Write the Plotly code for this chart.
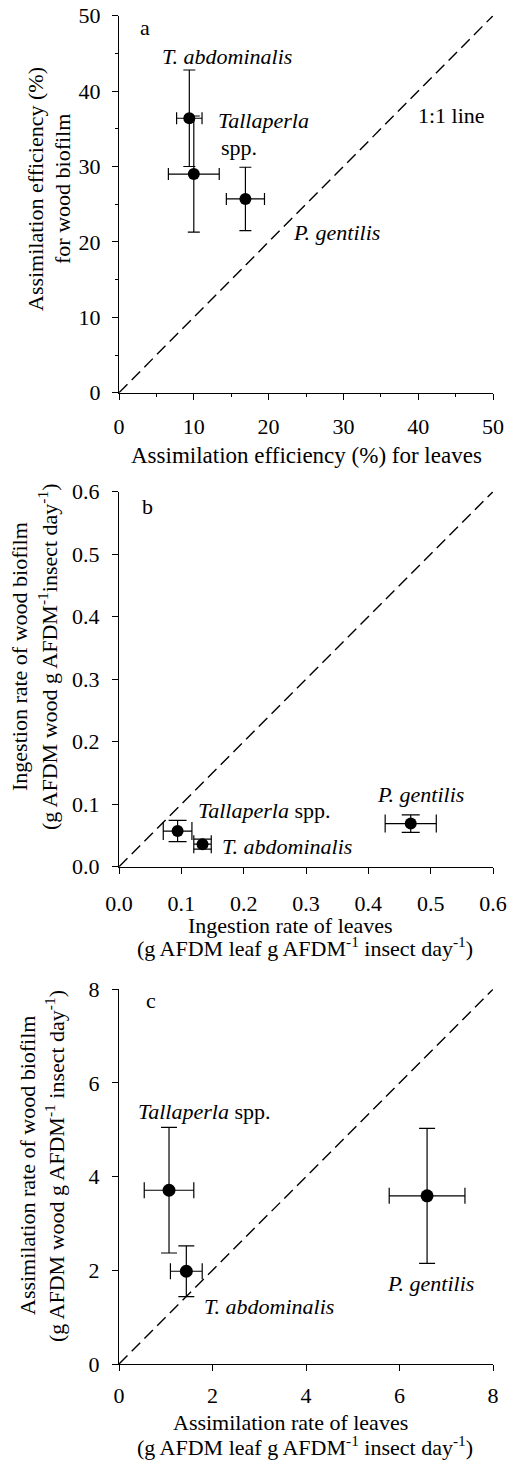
import plotly.graph_objects as go

# ---- data ----
species = ["T. abdominalis", "Tallaperla spp.", "P. gentilis"]

# panel a: assimilation efficiency (%)
a_x = [9.4, 10.0, 16.9]
a_xerr = [1.7, 3.4, 2.55]
a_y = [36.4, 29.0, 25.7]
a_yerr = [6.4, 7.7, 4.2]

# panel b: ingestion rate
b_x = [0.134, 0.094, 0.468]
b_xerr = [0.014, 0.023, 0.041]
b_y = [0.036, 0.057, 0.069]
b_yerr = [0.008, 0.017, 0.014]

# panel c: assimilation rate
c_x = [1.44, 1.07, 6.59]
c_xerr = [0.34, 0.53, 0.81]
c_y = [1.98, 3.71, 3.59]
c_yerr = [0.54, 1.34, 1.44]

a_ticks = [0, 10, 20, 30, 40, 50]
b_ticks = [0.0, 0.1, 0.2, 0.3, 0.4, 0.5, 0.6]
c_ticks = [0, 2, 4, 6, 8]

FONT = "Liberation Serif"
FS = 22
W, H = 515, 1466

fig = go.Figure()

xdom = [119 / W, 493 / W]
doms = {
    "a": [1 - 392.7 / H, 1 - 15.7 / H],
    "b": [1 - 866.7 / H, 1 - 491.7 / H],
    "c": [1 - 1364 / H, 1 - 989.3 / H],
}

panels = [
    ("a", "x", "y", a_x, a_xerr, a_y, a_yerr, a_ticks, 6, 12),
    ("b", "x2", "y2", b_x, b_xerr, b_y, b_yerr, b_ticks, 9, 12),
    ("c", "x3", "y3", c_x, c_xerr, c_y, c_yerr, c_ticks, 8, 13),
]

for name, xa, ya, xs, xe, ys, ye, ticks, capw, msize in panels:
    lim = ticks[-1]
    fig.add_trace(go.Scatter(
        x=[0, lim], y=[0, lim], mode="lines", xaxis=xa, yaxis=ya,
        line=dict(color="black", width=1.4, dash="12px,6px"),
        showlegend=False, hoverinfo="skip", cliponaxis=False))
    fig.add_trace(go.Scatter(
        x=xs, y=ys, mode="markers", xaxis=xa, yaxis=ya, text=species,
        marker=dict(color="black", size=msize),
        error_x=dict(type="data", array=xe, color="black", thickness=1.2, width=capw),
        error_y=dict(type="data", array=ye, color="black", thickness=1.2, width=capw),
        showlegend=False, cliponaxis=False))

common_axis = dict(
    showline=True, linecolor="black", linewidth=1.2, ticks="outside",
    ticklen=6, tickcolor="black", tickwidth=1.2, showgrid=False, zeroline=False,
    automargin=False,
    tickfont=dict(family=FONT, size=FS, color="black"),
)

fig.update_layout(
    template="none",
    xaxis=dict(domain=xdom, range=[0, 50], tickvals=a_ticks, anchor="y",
               minor=dict(dtick=5, ticks="outside", ticklen=3, tickcolor="black"),
               ticklabelstandoff=8, **common_axis),
    yaxis=dict(domain=doms["a"], range=[0, 50], tickvals=a_ticks, anchor="x",
               minor=dict(dtick=5, ticks="outside", ticklen=3, tickcolor="black"),
               ticklabelstandoff=7, **common_axis),
    xaxis2=dict(domain=xdom, range=[0, 0.6], tickvals=b_ticks, anchor="y2",
                tickformat=".1f", ticklabelstandoff=11, **common_axis),
    yaxis2=dict(domain=doms["b"], range=[0, 0.6], tickvals=b_ticks, anchor="x2",
                tickformat=".1f", ticklabelstandoff=8, **common_axis),
    xaxis3=dict(domain=xdom, range=[0, 8], tickvals=c_ticks, anchor="y3",
                ticklabelstandoff=5, **common_axis),
    yaxis3=dict(domain=doms["c"], range=[0, 8], tickvals=c_ticks, anchor="x3",
                ticklabelstandoff=8, **common_axis),
    width=W, height=H, margin=dict(l=0, r=0, t=0, b=0),
    paper_bgcolor="white", plot_bgcolor="white",
    font=dict(family=FONT, size=FS, color="black"),
)

def ann(text, x, y, xref, yref, angle=0, size=FS):
    fig.add_annotation(text=text, x=x, y=y, xref=xref, yref=yref, showarrow=False,
                       textangle=angle, xanchor="center", yanchor="middle",
                       font=dict(family=FONT, size=size, color="black"))

def px(xp, yp):
    return xp / W, 1 - yp / H

# in-plot labels
ann("a", 3.5, 48.4, "x", "y")
ann("<i>T. abdominalis</i>", 14.5, 44.6, "x", "y")
ann("<i>Tallaperla</i>", 19.3, 36.1, "x", "y")
ann("spp.", 16.0, 32.5, "x", "y")
ann("1:1 line", 44.5, 36.8, "x", "y")
ann("<i>P. gentilis</i>", 29.1, 21.2, "x", "y")

ann("b", 0.046, 0.576, "x2", "y2")
ann("<i>Tallaperla</i> spp.", 0.233, 0.090, "x2", "y2")
ann("<i>T. abdominalis</i>", 0.270, 0.032, "x2", "y2")
ann("<i>P. gentilis</i>", 0.484, 0.116, "x2", "y2")

ann("c", 0.69, 7.77, "x3", "y3")
ann("<i>Tallaperla</i> spp.", 1.82, 5.39, "x3", "y3")
ann("<i>T. abdominalis</i>", 3.21, 1.22, "x3", "y3")
ann("<i>P. gentilis</i>", 6.66, 1.72, "x3", "y3")

# axis titles
x, y = px(306, 455); ann("Assimilation efficiency (%) for leaves", x, y, "paper", "paper", size=23)
x, y = px(35, 189); ann("Assimilation efficiency (%)", x, y, "paper", "paper", -90)
x, y = px(62, 189); ann("for wood biofilm", x, y, "paper", "paper", -90)

x, y = px(290, 925); ann("Ingestion rate of leaves", x, y, "paper", "paper")
x, y = px(305, 947); ann("(g AFDM leaf g AFDM<sup>-1</sup> insect day<sup>-1</sup>)", x, y, "paper", "paper")
x, y = px(20, 657); ann("Ingestion rate of wood biofilm", x, y, "paper", "paper", -90)
x, y = px(48, 657); ann("(g AFDM wood g AFDM<sup>-1</sup>insect day<sup>-1</sup>)", x, y, "paper", "paper", -90)

x, y = px(290, 1422); ann("Assimilation rate of leaves", x, y, "paper", "paper")
x, y = px(305, 1446); ann("(g AFDM leaf g AFDM<sup>-1</sup> insect day<sup>-1</sup>)", x, y, "paper", "paper")
x, y = px(27, 1166); ann("Assimilation rate of wood biofilm", x, y, "paper", "paper", -90)
x, y = px(55, 1166); ann("(g AFDM wood g AFDM<sup>-1</sup> insect day<sup>-1</sup>)", x, y, "paper", "paper", -90)

fig.write_html("out.html", config={"displayModeBar": False},
               post_script="document.body.style.margin='0';")
